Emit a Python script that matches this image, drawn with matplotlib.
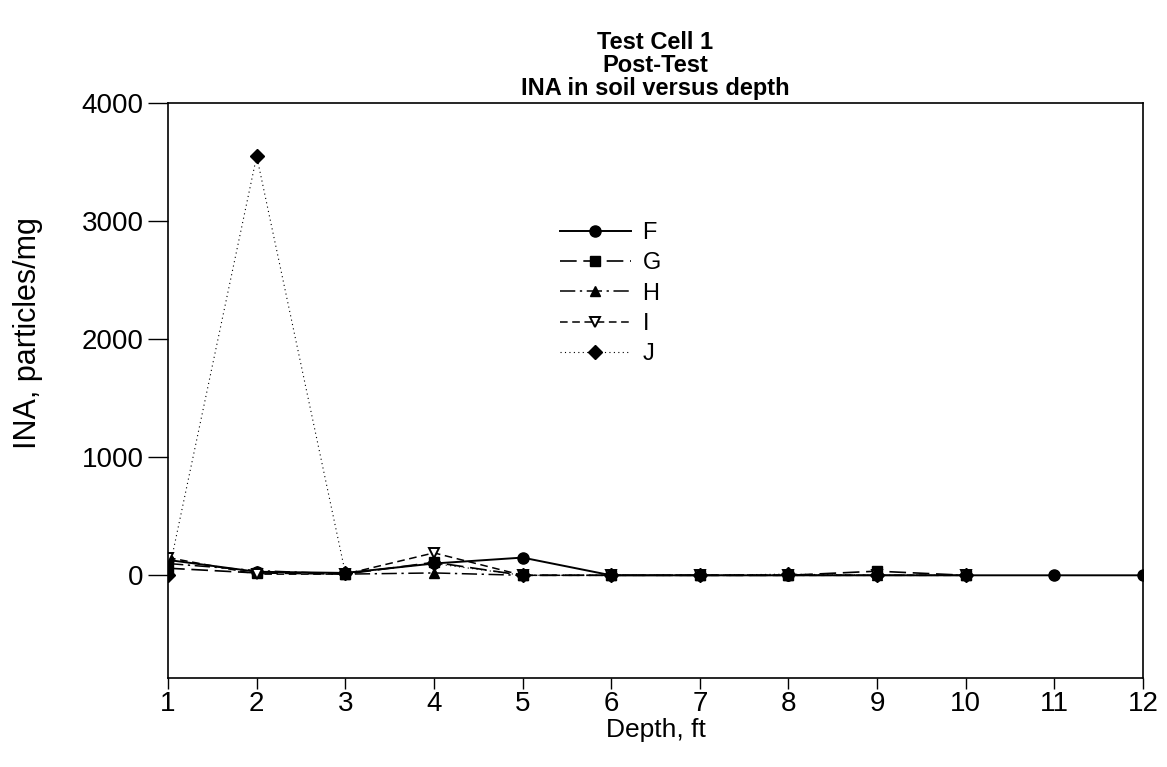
import matplotlib
matplotlib.use("Agg")
import matplotlib.pyplot as plt

plt.rcParams['font.family'] = ['Liberation Sans', 'DejaVu Sans']

depth = [1, 2, 3, 4, 5, 6, 7, 8, 9, 10, 11, 12]
F = [130, 30, 20, 100, 150, 0, 0, 0, 0, 0, 0, 0]
depth_g = [1, 2, 3, 4, 5, 6, 7, 8, 9, 10]
G = [60, 20, 10, 110, 0, 0, 0, 0, 35, 0]
H = [100, 40, 10, 20, 0, 0, 0, 0, 0, 0]
I = [150, 10, 10, 190, 0, 0, 0, 0, 0, 0]
J = [0, 3550, 20, 100, 0, 0, 0, 10, 0, 0]

title = "Test Cell 1\nPost-Test\nINA in soil versus depth"
xlabel = "Depth, ft"
ylabel = "INA, particles/mg"
yticks = [0, 1000, 2000, 3000, 4000]

fig = plt.figure(figsize=(11.67, 7.67), dpi=100)
ax = fig.add_axes([0.144, 0.116, 0.8354, 0.7497])

ax.plot(depth, F, color='black', lw=1.4, ls='-', marker='o', ms=8, label='F')
ax.plot(depth_g, G, color='black', lw=1.2, ls=(0, (10, 4)), marker='s', ms=6.5, label='G')
ax.plot(depth_g, H, color='black', lw=1.1, ls=(0, (10, 3, 1.5, 3)), marker='^', ms=7.5, label='H')
ax.plot(depth_g, I, color='black', lw=1.1, ls=(0, (5, 3)), marker='v', ms=7.5,
        markerfacecolor='white', markeredgewidth=1.4, label='I')
ax.plot(depth_g, J, color='black', lw=0.8, ls=(0, (1, 3)), marker='D', ms=7, label='J')

ax.set_xlim(1, 12)
ax.set_ylim(-870, 4000)
ax.set_xticks(depth)
ax.set_yticks(yticks)
ax.tick_params(direction='out', width=1, labelsize=20)
ax.tick_params(axis='y', length=14.5, pad=3)
ax.tick_params(axis='x', length=8, pad=1)
for s in ax.spines.values():
    s.set_linewidth(1.2)

ax.set_xlabel(xlabel, fontsize=19, labelpad=1)
ax.set_ylabel(ylabel, fontsize=22)
ax.yaxis.set_label_coords(-0.128, 0.6)
ax.set_title(title, fontsize=17, fontweight='bold', linespacing=1.0, pad=6)

leg = ax.legend(loc='upper left', bbox_to_anchor=(0.38, 0.83), frameon=False,
                fontsize=17, handlelength=3.0, labelspacing=0.35, handletextpad=0.5,
                markerfirst=True)

fig.savefig("out.png", dpi=100)
